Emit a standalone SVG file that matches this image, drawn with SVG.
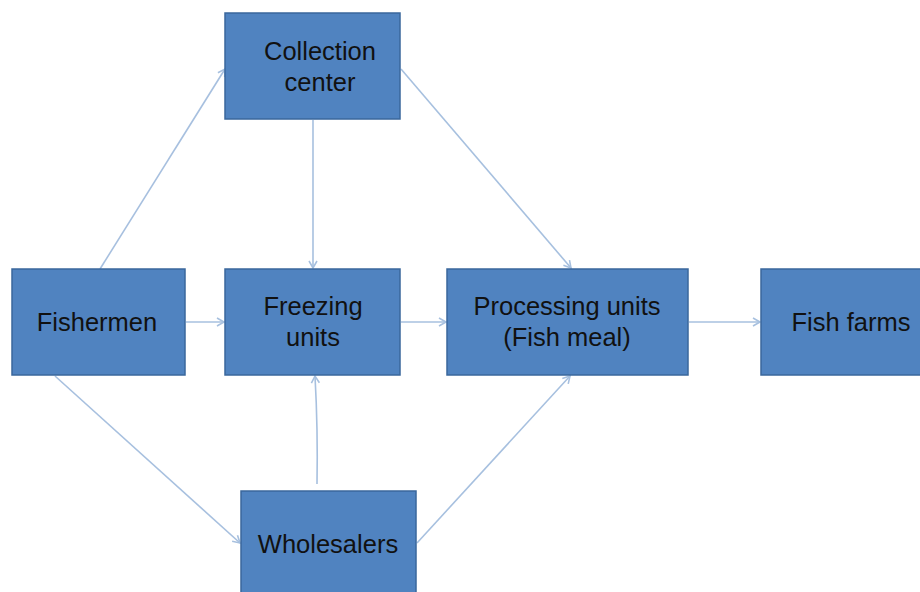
<svg xmlns="http://www.w3.org/2000/svg" width="920" height="592" viewBox="0 0 920 592">
  <style>
    .box { fill: #5083C0; stroke: #3A679C; stroke-width: 1.5; }
    .lbl { font-family: "Liberation Sans", Arial, sans-serif; font-size: 25.5px; fill: #111; text-anchor: middle; }
    .link { fill: none; stroke: #A7C0DF; stroke-width: 1.6; marker-end: url(#arr); }
  </style>
  <defs>
    <marker id="arr" markerWidth="12" markerHeight="12" refX="10" refY="6" orient="auto" markerUnits="userSpaceOnUse">
      <path d="M3,2 L10,6 L3,10" fill="none" stroke="#A7C0DF" stroke-width="1.6"/>
    </marker>
  </defs>
  <rect width="920" height="592" fill="#fff"/>

  <g id="connectors">
    <line class="link" x1="100" y1="269" x2="225" y2="69"/>
    <line class="link" x1="313" y1="120" x2="313" y2="268"/>
    <line class="link" x1="401" y1="69" x2="571" y2="268"/>
    <line class="link" x1="186" y1="322" x2="224" y2="322"/>
    <line class="link" x1="401" y1="322" x2="446" y2="322"/>
    <line class="link" x1="689" y1="322" x2="760" y2="322"/>
    <line class="link" x1="55" y1="376" x2="240" y2="543"/>
    <path class="link" d="M317,484 Q318,430 315,376"/>
    <line class="link" x1="417" y1="543" x2="570" y2="376"/>
  </g>

  <g id="collection-center">
    <rect class="box" x="225" y="13" width="175" height="106"/>
    <text class="lbl" x="320" y="60">Collection</text>
    <text class="lbl" x="320" y="91">center</text>
  </g>
  <g id="fishermen">
    <rect class="box" x="12" y="269" width="173" height="106"/>
    <text class="lbl" x="97" y="331">Fishermen</text>
  </g>
  <g id="freezing-units">
    <rect class="box" x="225" y="269" width="175" height="106"/>
    <text class="lbl" x="313" y="315">Freezing</text>
    <text class="lbl" x="313" y="346">units</text>
  </g>
  <g id="processing-units">
    <rect class="box" x="447" y="269" width="241" height="106"/>
    <text class="lbl" x="567" y="315">Processing units</text>
    <text class="lbl" x="567" y="346">(Fish meal)</text>
  </g>
  <g id="fish-farms">
    <rect class="box" x="761" y="269" width="175" height="106"/>
    <text class="lbl" x="851" y="331">Fish farms</text>
  </g>
  <g id="wholesalers">
    <rect class="box" x="241" y="491" width="175" height="120"/>
    <text class="lbl" x="328" y="553">Wholesalers</text>
  </g>
</svg>
